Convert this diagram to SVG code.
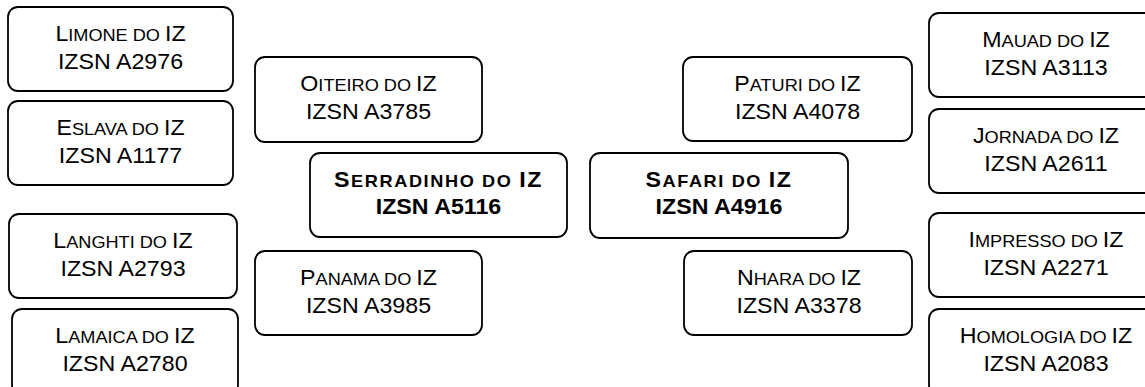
<svg xmlns="http://www.w3.org/2000/svg" width="1145" height="387" viewBox="0 0 1145 387">
<style>
rect.b{fill:#fff;stroke:#000;stroke-width:1.8}
text{font-family:"Liberation Sans",Arial,sans-serif;font-size:21.5px;fill:#000;text-anchor:middle;transform-box:fill-box;transform-origin:center;transform:scaleX(1.08)}
tspan.s{font-size:16.8px}
text.bd{font-weight:bold}
text.ls{letter-spacing:1.5px}
</style>
<rect width="1145" height="387" fill="#fff"/>
<g id="connectors"></g>
<g id="limone"><rect class="b" x="8" y="7" width="225" height="84" rx="10"/><text x="120.5" y="41">L<tspan class="s">IMONE DO </tspan>IZ</text><text x="120.5" y="69">IZSN A2976</text></g>
<g id="eslava"><rect class="b" x="8" y="101" width="225" height="84" rx="10"/><text x="120.5" y="135">E<tspan class="s">SLAVA DO </tspan>IZ</text><text x="120.5" y="163">IZSN A1177</text></g>
<g id="langhti"><rect class="b" x="9" y="214" width="228" height="84" rx="10"/><text x="123" y="248">L<tspan class="s">ANGHTI DO </tspan>IZ</text><text x="123" y="276">IZSN A2793</text></g>
<g id="lamaica"><rect class="b" x="12" y="309" width="226" height="86" rx="10"/><text x="125" y="343">L<tspan class="s">AMAICA DO </tspan>IZ</text><text x="125" y="371">IZSN A2780</text></g>
<g id="oiteiro"><rect class="b" x="255" y="57" width="227" height="85" rx="10"/><text x="368.5" y="91">O<tspan class="s">ITEIRO DO </tspan>IZ</text><text x="368.5" y="119">IZSN A3785</text></g>
<g id="serradinho"><rect class="b" x="310" y="153" width="257" height="84" rx="10"/><text class="bd ls" x="438.5" y="187">S<tspan class="s">ERRADINHO DO </tspan>IZ</text><text class="bd" x="438.5" y="214">IZSN A5116</text></g>
<g id="panama"><rect class="b" x="255" y="251" width="227" height="84" rx="10"/><text x="368.5" y="285">P<tspan class="s">ANAMA DO </tspan>IZ</text><text x="368.5" y="313">IZSN A3985</text></g>
<g id="paturi"><rect class="b" x="683" y="57" width="229" height="84" rx="10"/><text x="797.5" y="91">P<tspan class="s">ATURI DO </tspan>IZ</text><text x="797.5" y="119">IZSN A4078</text></g>
<g id="safari"><rect class="b" x="590" y="153" width="258" height="85" rx="10"/><text class="bd ls" x="719" y="187">S<tspan class="s">AFARI DO </tspan>IZ</text><text class="bd" x="719" y="214">IZSN A4916</text></g>
<g id="nhara"><rect class="b" x="684" y="251" width="228" height="84" rx="10"/><text x="799" y="285">N<tspan class="s">HARA DO </tspan>IZ</text><text x="799" y="313">IZSN A3378</text></g>
<g id="mauad"><rect class="b" x="929" y="13" width="234" height="84" rx="10"/><text x="1046" y="47">M<tspan class="s">AUAD DO </tspan>IZ</text><text x="1046" y="75">IZSN A3113</text></g>
<g id="jornada"><rect class="b" x="929" y="109" width="234" height="84" rx="10"/><text x="1046" y="143">J<tspan class="s">ORNADA DO </tspan>IZ</text><text x="1046" y="171">IZSN A2611</text></g>
<g id="impresso"><rect class="b" x="929" y="213" width="234" height="84" rx="10"/><text x="1046" y="247">I<tspan class="s">MPRESSO DO </tspan>IZ</text><text x="1046" y="275">IZSN A2271</text></g>
<g id="homologia"><rect class="b" x="929" y="309" width="234" height="86" rx="10"/><text x="1046" y="343">H<tspan class="s">OMOLOGIA DO </tspan>IZ</text><text x="1046" y="371">IZSN A2083</text></g>
</svg>
